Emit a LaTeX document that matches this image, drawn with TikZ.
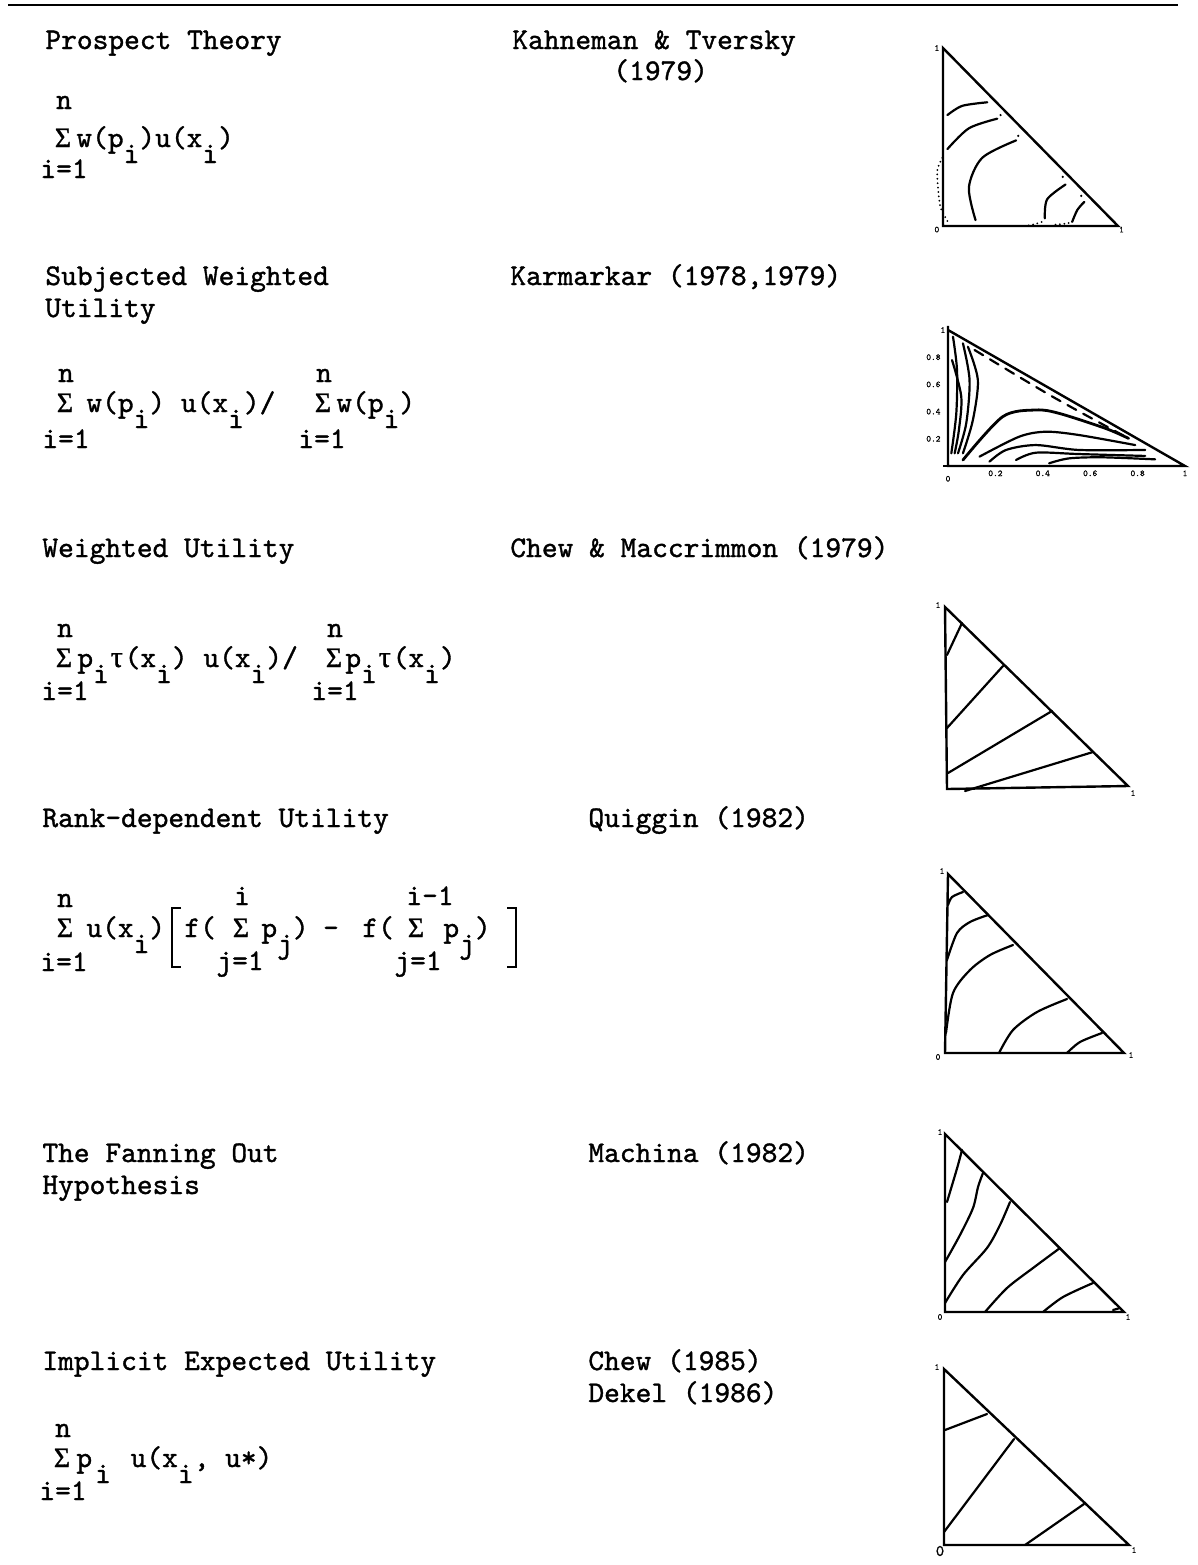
\documentclass[tikz,border=0pt]{standalone}
\usepackage{fontspec}
\newfontfamily\tw{lmmono10-regular.otf}[FakeBold=1.2]
\newfontfamily\gk{Liberation Serif}[FakeBold=1]
\newcommand\sbx[1]{\raisebox{-8pt}{#1}}
\newcommand\sig{{\gk\fontsize{14}{14}\selectfont Σ}}
\newcommand\tauc{\makebox[7.875pt]{\gk τ}}
\begin{document}
\begin{tikzpicture}[x=0.5pt,y=-0.5pt,
  every node/.style={inner sep=0pt,font=\tw\fontsize{15}{17}\selectfont},
  txt/.style={anchor=base west},
  ctr/.style={anchor=base},
  tiny/.style={font=\tw\fontsize{4.5}{5}\selectfont},
  tri/.style={line width=1.2pt,line join=miter},
  crv/.style={line width=1.1pt,line cap=round},
  dots/.style={line width=1pt,line cap=round,dash pattern=on 0pt off 2.2pt},
  brk/.style={line width=1pt}]
\useasboundingbox (0,0) rectangle (1198,1565);
\fill[white] (0,0) rectangle (1198,1565);
% top rule
\draw[line width=1pt] (8,5) -- (1178,5);

% ---------- block 1 ----------
\node[txt] (t1a) at (45,49) {Prospect Theory};
\node[txt] (t1b) at (512,49) {Kahneman \& Tversky};
\node[txt] (t1c) at (613,80) {(1979)};
\node[ctr] (f1n) at (64,109) {n};
\node[ctr] (f1s) at (63,147) {\sig};
\node[txt] (f1b) at (76,147) {w(p\sbx{i})u(x\sbx{i})};
\node[ctr] (f1l) at (64,178) {i=1};
\begin{scope}[shift={(471.5pt,-113pt)},x=87.5pt,y=89pt]
  \draw[tri] (0,1) -- (0,0) -- (1,0) -- cycle;
  \draw[crv] plot[smooth] coordinates {(.025,.623) (.11,.675) (.253,.695)};
  \draw[crv] plot[smooth] coordinates {(.025,.432) (.148,.549) (.31,.603)};
  \draw[crv] plot[smooth] coordinates {(.186,.033) (.148,.218) (.224,.383) (.418,.481)};
  \draw[crv] plot[smooth] coordinates {(.582,.043) (.595,.150) (.700,.233)};
  \draw[crv] plot[smooth] coordinates {(.738,.023) (.768,.091) (.808,.136)};
  \draw[dots] plot[smooth] coordinates {(-.004,.383) (-.032,.315) (-.027,.198) (-.013,.101) (.034,.014)};
  \draw[dots] plot[smooth] coordinates {(.49,.004) (.53,.012) (.576,.027)};
  \draw[dots] plot[smooth] coordinates {(.643,.008) (.69,.012) (.728,.019)};
  \fill (.329,.623) circle (0.6pt) (.43,.506) circle (0.6pt) (.684,.276) circle (0.6pt) (.79,.169) circle (0.6pt);
  \node[tiny] (g1a) at (-.035,1.0) {1};
  \node[tiny] (g1b) at (-.035,-.02) {0};
  \node[tiny] (g1c) at (1.02,-.02) {1};
\end{scope}

% ---------- block 2 ----------
\node[txt] (t2a) at (45,285) {Subjected Weighted};
\node[txt] (t2b) at (45,317) {Utility};
\node[txt] (t2c) at (510,285) {Karmarkar (1978,1979)};
\node[ctr] (f2n) at (66,382) {n};
\node[ctr] (f2s) at (65,412) {\sig};
\node[txt] (f2b) at (86,412) {w(p\sbx{i}) u(x\sbx{i})/};
\node[ctr] (f2l) at (66,448) {i=1};
\node[ctr] (f2n2) at (324,382) {n};
\node[ctr] (f2s2) at (323,412) {\sig};
\node[txt] (f2b2) at (336,412) {w(p\sbx{i})};
\node[ctr] (f2l2) at (322,448) {i=1};
\begin{scope}[shift={(474pt,-233pt)},x=118.5pt,y=68pt]
  \draw[tri] (0,1.03) -- (0,0) -- (1,0) -- (0,1) ;
  \draw[line width=0.8pt] (-.02,0) -- (0,0);
  \draw[crv] plot[smooth] coordinates {(.021,.951) (.038,.706) (.035,.387) (.014,.093)};
  \draw[crv] plot[smooth] coordinates {(.017,.779) (.056,.510) (.046,.265) (.028,.093)};
  \draw[crv] plot[smooth] coordinates {(.063,.902) (.091,.632) (.077,.314) (.042,.093)};
  \draw[crv] plot[smooth] coordinates {(.084,.877) (.126,.632) (.105,.338) (.063,.093)};
  \draw[crv,dash pattern=on 5pt off 4pt] plot[smooth] coordinates {(.112,.853) (.441,.510) (.762,.203)};
  \draw[crv,line width=1.4pt] plot[smooth] coordinates {(.063,.044) (.231,.363) (.371,.412) (.469,.387) (.664,.277) (.762,.203)};
  \draw[crv] plot[smooth] coordinates {(.133,.069) (.301,.216) (.413,.252) (.552,.228) (.790,.154)};
  \draw[crv] plot[smooth] coordinates {(.175,.032) (.245,.118) (.371,.154) (.552,.118) (.832,.118)};
  \draw[crv] plot[smooth] coordinates {(.287,.044) (.371,.098) (.552,.088) (.832,.074)};
  \draw[crv] plot[smooth] coordinates {(.427,.020) (.510,.056) (.650,.064) (.874,.049)};
  \foreach \v/\nm in {0.2/a,0.4/b,0.6/c,0.8/d} {
    \node[tiny,anchor=east] (g2y\nm) at (-.03,\v) {\v};
    \node[tiny,anchor=north] (g2x\nm) at (\v,-.03) {\v};
  }
  \node[tiny,anchor=north] (g2o) at (0,-.07) {0};
  \node[tiny,anchor=north] (g2e) at (1,-.03) {1};
  \node[tiny,anchor=east] (g2t) at (-.01,1.0) {1};
\end{scope}

% ---------- block 3 ----------
\node[txt] (t3a) at (42,557) {Weighted Utility};
\node[txt] (t3b) at (510,557) {Chew \& Maccrimmon (1979)};
\node[ctr] (f3n) at (65,637) {n};
\node[ctr] (f3s) at (64,667) {\sig};
\node[txt] (f3b) at (77,667) {p\sbx{i}\tauc(x\sbx{i}) u(x\sbx{i})/};
\node[ctr] (f3l) at (65,700) {i=1};
\node[ctr] (f3n2) at (335,637) {n};
\node[ctr] (f3s2) at (334,667) {\sig};
\node[txt] (f3b2) at (345,667) {p\sbx{i}\tauc(x\sbx{i})};
\node[ctr] (f3l2) at (335,700) {i=1};
\draw[tri] (945,607) -- (947,789) -- (1128,786) -- cycle;
\draw[crv] (947,655) -- (962,623);
\draw[crv] (947,728) -- (1003,666);
\draw[crv] (948,773) -- (1052,711);
\draw[crv] (965,791) -- (1093,752);
\node[tiny] (g3a) at (938,605) {1};
\node[tiny] (g3b) at (1133,793) {1};

% ---------- block 4 ----------
\node[txt] (t4a) at (42,827) {Rank-dependent Utility};
\node[txt] (t4b) at (588,827) {Quiggin (1982)};
\node[ctr] (f4n) at (65,907) {n};
\node[ctr] (f4s) at (65,937) {\sig};
\node[ctr] (f4l) at (64,971) {i=1};
\node[txt] (f4b) at (86,937) {u(x\sbx{i})};
\draw[brk] (181,908) -- (172,908) -- (172,967) -- (181,967);
\node[txt] (f4c) at (184,937) {f(};
\node[ctr] (f4n2) at (242,905) {i};
\node[ctr] (f4s2) at (241,937) {\sig};
\node[ctr] (f4l2) at (240,970) {j=1};
\node[txt] (f4d) at (261,937) {p\sbx{j})};
\node[ctr] (f4m) at (331,937) {-};
\node[txt] (f4e) at (362,937) {f(};
\node[ctr] (f4n3) at (430,905) {i-1};
\node[ctr] (f4s3) at (416,937) {\sig};
\node[ctr] (f4l3) at (418,970) {j=1};
\node[txt] (f4f) at (443,937) {p\sbx{j})};
\draw[brk] (507,908) -- (516,908) -- (516,967) -- (507,967);
\draw[tri] (948,874) -- (945,1053) -- (1124,1053) -- cycle;
\draw[crv] plot[smooth] coordinates {(948,905) (952,897) (963,892)};
\draw[crv] plot[smooth] coordinates {(947,960) (957,933) (970,922) (988,915)};
\draw[crv] plot[smooth] coordinates {(946,1033) (953,993) (970,970) (990,955) (1013,945)};
\draw[crv] plot[smooth] coordinates {(999,1053) (1013,1030) (1037,1012) (1067,999)};
\draw[crv] plot[smooth] coordinates {(1067,1053) (1080,1042) (1102,1033)};
\node[tiny] (g4a) at (942,871) {1};
\node[tiny] (g4b) at (938,1057) {0};
\node[tiny] (g4c) at (1131,1055) {1};

% ---------- block 5 ----------
\node[txt] (t5a) at (42,1162) {The Fanning Out};
\node[txt] (t5b) at (42,1194) {Hypothesis};
\node[txt] (t5c) at (588,1162) {Machina (1982)};
\draw[tri] (945,1134) -- (945,1312) -- (1124,1312) -- cycle;
\draw[crv] plot[smooth] coordinates {(947,1202) (953,1182) (958,1165) (962,1150)};
\draw[crv] plot[smooth] coordinates {(945,1262) (960,1235) (973,1208) (978,1187) (983,1173)};
\draw[crv] plot[smooth] coordinates {(945,1303) (963,1275) (987,1248) (1000,1225) (1010,1202)};
\draw[crv] plot[smooth] coordinates {(985,1312) (1007,1288) (1033,1268) (1060,1248)};
\draw[crv] plot[smooth] coordinates {(1043,1312) (1063,1297) (1093,1283)};
\draw[crv] (1113,1310) -- (1120,1308);
\node[tiny] (g5a) at (940,1132) {1};
\node[tiny] (g5b) at (940,1317) {0};
\node[tiny] (g5c) at (1128,1317) {1};

% ---------- block 6 ----------
\node[txt] (t6a) at (42,1370) {Implicit Expected Utility};
\node[txt] (t6b) at (588,1370) {Chew (1985)};
\node[txt] (t6c) at (588,1402) {Dekel (1986)};
\node[ctr] (f6n) at (63,1437) {n};
\node[ctr] (f6s) at (62,1467) {\sig};
\node[txt] (f6b) at (76,1467) {p\hspace{1.5pt}\sbx{i}\hspace{2pt} u(x\sbx{i}, u*)};
\node[ctr] (f6l) at (63,1500) {i=1};
\draw[tri] (944,1369) -- (944,1545) -- (1129,1545) -- cycle;
\draw[crv] (945,1430) -- (987,1414);
\draw[crv] (944,1532) -- (1014,1439);
\draw[crv] (1025,1545) -- (1084,1504);
\node[tiny] (g6a) at (937,1367) {1};
\node[font=\tw\fontsize{8}{9}\selectfont] (g6b) at (940,1551) {0};
\node[tiny] (g6c) at (1134,1550) {1};
\end{tikzpicture}
\end{document}
